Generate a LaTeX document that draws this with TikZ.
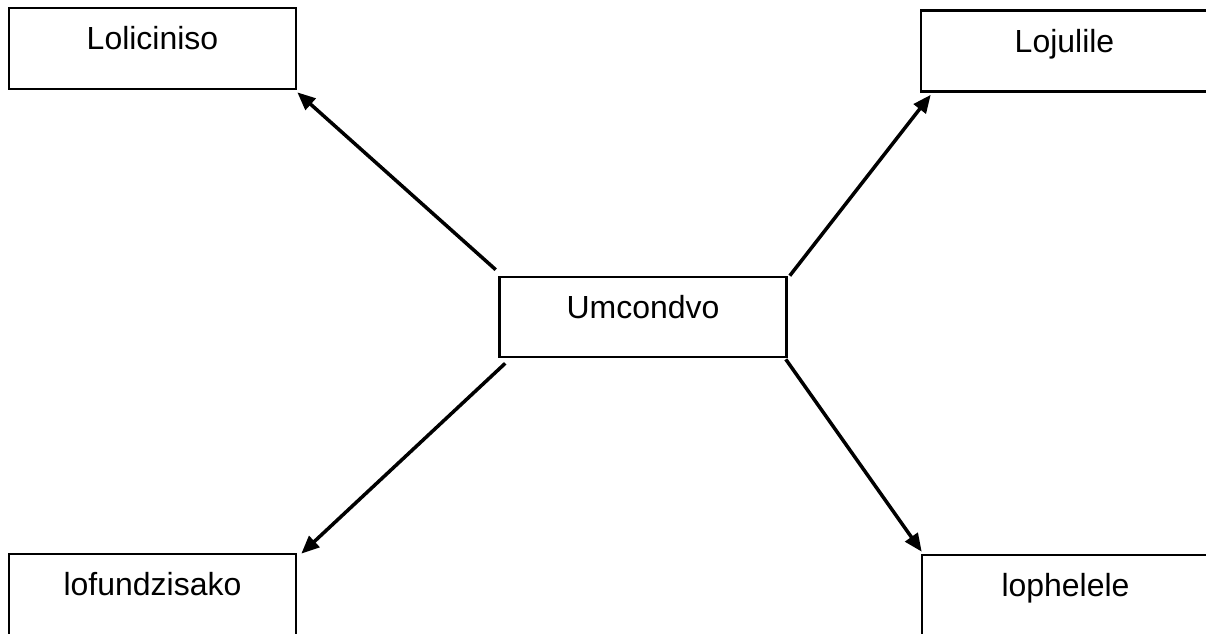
\documentclass[tikz,border=0pt]{standalone}
\usepackage{fontspec}
\setmainfont{Liberation Sans}
\usetikzlibrary{arrows.meta}
\begin{document}
\begin{tikzpicture}
	[x=0.02cm,y=-0.02cm,every node/.style={rectangle,
	draw=black, line width=1.5pt,
	minimum width=5.74cm, minimum height=1.62cm, inner sep=0pt,
	text height=0.46cm, text depth=0.42cm,
	font=\fontsize{18.2}{22}\selectfont}]
	\useasboundingbox (0,0) rectangle (1206,633);
	\clip (0,0) rectangle (1206,633);

	\node (ctr) at (643,317)  [minimum height=1.6cm] {Umcondvo};

	\node (lol) at (152.5,48.5)  {Loliciniso};
	\node (loj) at (1064.5,51)   {Lojulile};
	\node (lof) at (152.5,594.5) {lofundzisako};
	\node (lop) at (1065.5,595.5) {lophelele};

	%%arrows
	\tikzset{arrow/.style={line width=2pt,
		-{Triangle[length=0.36cm,width=0.3cm]}}}
	\draw[arrow] ([shift={(-2.5,-6)}]ctr.north west) -- ([shift={(0,2)}]lol.south east);
	\draw[arrow] ([shift={(2,0)}]ctr.north east) -- ([shift={(11,2)}]loj.south west);
	\draw[arrow] ([shift={(7,5)}]ctr.south west) -- ([shift={(4,1)}]lof.north east);
	\draw[arrow] ([shift={(-2,1)}]ctr.south east) -- ([shift={(1,-2)}]lop.north west);
\end{tikzpicture}
\end{document}
